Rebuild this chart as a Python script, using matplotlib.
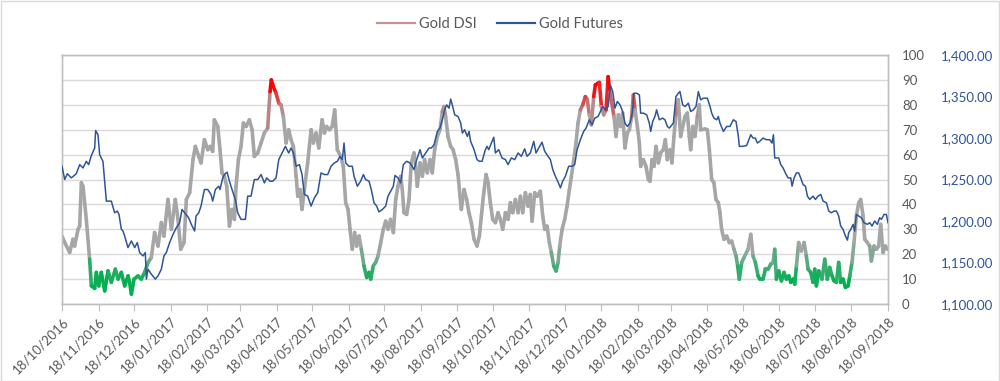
import numpy as np
import pandas as pd
import matplotlib
matplotlib.use("Agg")
import matplotlib.pyplot as plt
import matplotlib.dates as mdates
from matplotlib.collections import LineCollection
from matplotlib.colors import LinearSegmentedColormap
from matplotlib.lines import Line2D
from matplotlib.patches import Rectangle

plt.rcParams["font.family"] = ["Lato", "DejaVu Sans"]

# ── data: day offsets from 18/10/2016 ──
START = "2016-10-18"

dsi_day = [
    0, 2.3, 6.5, 9.3, 10.7, 13.6, 15.0, 16.4, 17.8, 20.6, 23.4, 24.9, 27.7, 29.1, 31.1, 33.3,
    36.2, 39.0, 41.8, 45.2, 47.5, 50.3, 53.1, 56.0, 57.3, 58.8, 61.0, 64.4, 67.2, 70.0, 72.9,
    75.7, 78.5, 81.4, 84.2, 86.4, 89.8, 92.7, 96.0, 98.3, 100.6, 103.4, 105.4, 108.2, 111.0,
    113.0, 115.9, 117.8, 120.7, 123.5, 125.5, 127.7, 129.1, 132.0, 133.9, 135.6, 137.6, 139.6,
    141.9, 144.1, 146.1, 147.5, 149.5, 151.7, 153.7, 156.0, 158.8, 161.1, 163.0, 165.9, 168.7,
    171.5, 174.3, 176.3, 177.4, 179.1, 181.4, 183.7, 185.6, 187.6, 189.9, 192.1, 194.1, 196.1,
    198.4, 199.8, 201.7, 203.4, 205.4, 208.2, 211.1, 213.0, 215.3, 217.6, 220.4, 222.4, 224.3,
    226.6, 228.9, 231.1, 233.3, 236.2, 238.4, 240.4, 242.4, 244.1, 246.0, 248.0, 249.7, 251.7,
    253.7, 255.9, 258.2, 260.2, 261.6, 263.8, 265.8, 267.8, 270.1, 272.3, 274.3, 276.3, 278.5,
    280.8, 282.8, 284.7, 287.0, 288.4, 289.8, 292.1, 294.1, 296.0, 298.3, 299.7, 301.1, 303.4,
    305.4, 307.3, 309.6, 311.9, 313.8, 315.8, 318.1, 320.3, 322.3, 323.7, 325.1, 327.1, 329.4,
    331.4, 333.6, 335.6, 337.3, 338.4, 340.7, 342.9, 344.9, 346.9, 349.2, 351.7, 353.7, 355.4,
    357.4, 359.4, 361.1, 363.0, 365.0, 367.3, 369.5, 371.5, 373.5, 375.8, 378.0, 380.0, 382.0,
    384.2, 386.5, 388.5, 390.4, 392.7, 395.0, 396.9, 398.4, 400.6, 402.6, 405.4, 407.4, 409.1,
    411.1, 413.0, 414.7, 416.7, 418.7, 420.4, 421.8, 423.8, 426.0, 428.0, 430.0, 431.7, 433.7,
    435.6, 437.3, 439.3, 441.3, 443.5, 445.2, 446.9, 448.6, 450.6, 452.0, 454.3, 455.4, 457.1,
    459.1, 461.1, 462.8, 464.2, 467.8, 469.5, 471.5, 473.4, 475.1, 477.1, 479.1, 480.8, 482.8,
    484.2, 485.6, 487.6, 489.3, 490.4, 492.7, 494.9, 496.9, 498.3, 500.0, 501.7, 503.4, 505.4,
    507.3, 509.6, 511.3, 513.0, 515.3, 516.9, 518.6, 520.3, 522.3, 524.3, 526.0, 528.0, 529.9,
    531.6, 532.8, 534.5, 536.4, 538.4, 540.1, 541.2, 544.9, 546.9, 548.6, 550.6, 552.5, 554.2,
    556.2, 557.6, 559.0, 561.0, 563.3, 565.5, 567.5, 569.5, 571.2, 572.6, 574.0, 576.0, 578.0,
    581.4, 583.7, 585.6, 587.6, 589.9, 591.3, 594.1, 596.1, 598.4, 600.6, 602.6, 604.0, 605.4,
    607.4, 609.7, 611.9, 613.9, 615.9, 617.6, 619.5, 621.0, 622.4, 624.3, 626.6, 628.9, 630.8,
    632.3, 634.5, 636.5, 637.9, 639.3, 641.3, 644.1, 646.4, 648.6, 650.6, 652.6, 654.3, 656.3,
    658.2, 659.9, 661.9, 663.9, 666.2, 667.6, 669.5, 671.2, 673.2, 675.2, 676.9, 678.9, 680.3,
    682.5, 684.5, 685.9, 688.2, 690.2, 692.1, 693.8, 695.8, 697.8, 699.5,
]
dsi_val = [
    27.3, 24.7, 20.7, 26.0, 23.3, 30.0, 31.3, 48.7, 47.3, 34.0, 18.0, 7.3, 6.3, 12.7, 7.3, 12.7,
    5.3, 13.3, 8.7, 14.0, 10.0, 12.7, 7.3, 11.3, 8.7, 4.0, 10.0, 11.3, 10.0, 12.7, 16.7,
    18.7, 28.7, 23.3, 32.7, 27.3, 42.0, 30.0, 42.0, 34.0, 22.0, 24.7, 42.0, 44.7, 58.0,
    63.3, 59.3, 56.7, 66.0, 62.0, 63.3, 61.3, 74.0, 71.3, 62.0, 52.7, 51.3, 47.3,
    31.3, 38.0, 34.0, 47.3, 58.0, 63.3, 72.7, 71.3, 74.0, 70.0, 59.3, 60.7, 64.7,
    68.7, 70.7, 85.3, 90.0, 87.3, 84.7, 80.7, 80.0, 75.3, 64.7, 70.0, 66.0, 63.3,
    51.3, 43.3, 46.0, 38.0, 46.0, 56.7, 70.0, 64.7, 68.7, 62.7, 74.0, 68.7, 71.3,
    70.0, 71.3, 78.0, 62.0, 59.3, 55.3, 40.7, 38.0, 30.0, 22.0, 28.7, 23.3, 27.3,
    22.0, 15.3, 10.7, 12.7, 10.0, 15.3, 16.7, 19.3, 24.7, 30.0, 33.3, 30.0, 34.0,
    28.7, 42.0, 47.3, 51.3, 46.0, 36.7, 36.0, 42.0, 56.7, 60.7, 55.3, 47.3, 56.7,
    51.3, 58.0, 52.7, 58.0, 52.7, 62.0, 67.3, 70.0, 77.3, 79.3, 75.3, 67.3, 63.3,
    62.0, 58.0, 52.0, 43.3, 38.0, 46.0, 42.0, 36.7, 32.7, 26.0, 23.3, 27.3, 35.3,
    44.7, 52.0, 48.7, 40.7, 34.0, 32.7, 36.7, 34.0, 30.0, 36.7, 34.0, 40.7, 36.7,
    42.0, 36.7, 43.3, 36.7, 44.7, 39.3, 44.0, 33.3, 44.7, 43.3, 45.3, 35.3, 30.0,
    31.3, 24.7, 20.7, 15.3, 13.3, 16.7, 23.3, 30.0, 34.0, 39.3, 46.0, 51.3, 58.0,
    64.7, 72.7, 78.0, 80.0, 83.3, 82.0, 76.0, 72.0, 83.3, 88.0, 88.7, 89.0, 79.3,
    76.0, 78.0, 91.3, 85.3, 75.3, 67.3, 76.0, 71.3, 76.7, 62.7, 68.7, 70.0, 75.3,
    84.0, 78.0, 71.3, 64.7, 55.3, 58.0, 55.3, 50.0, 49.3, 58.0, 55.3, 63.3, 56.7,
    60.7, 62.0, 66.0, 58.0, 62.0, 56.7, 67.3, 76.0, 82.0, 67.3, 71.3, 75.3, 76.7,
    67.3, 62.0, 71.3, 67.3, 75.3, 80.0, 70.0, 70.3, 70.0, 62.0, 50.0, 48.7, 42.0,
    40.7, 36.7, 30.0, 26.0, 27.3, 24.7, 25.3, 22.0, 19.3, 15.3, 10.0, 16.7, 18.7,
    22.0, 28.0, 19.3, 16.7, 11.3, 10.0, 10.0, 14.0, 14.0, 16.0, 16.7, 22.0, 10.0,
    13.3, 9.3, 12.7, 10.0, 11.3, 8.7, 10.0, 8.0, 15.3, 24.7, 21.3, 24.7, 19.3,
    14.0, 12.7, 8.7, 14.0, 7.3, 13.3, 10.0, 18.0, 10.0, 14.7, 11.3, 9.3, 8.7,
    16.7, 8.7, 10.0, 6.7, 7.3, 11.3, 16.7, 24.7, 35.3, 40.7, 42.0, 35.3, 26.0,
    24.7, 23.3, 17.3, 23.3, 22.0, 23.3, 32.0, 20.7, 23.3, 22.0,
]

gold_day = [
    0, 2.3, 4.5, 7.9, 12.1, 15.0, 17.8, 20.6, 22.6, 24.9, 27.7, 28.5, 30.5, 31.9, 34.7, 37.6,
    41.8, 44.6, 46.9, 48.3, 50.3, 51.7, 53.1, 55.9, 58.8, 61.6, 63.8, 65.8, 68.6, 70.6, 71.5,
    72.9, 75.7, 79.1, 81.4, 84.2, 86.4, 88.4, 91.2, 94.1, 96.9, 99.7, 101.7, 103.9, 107.3,
    109.6, 112.4, 113.6, 115.9, 117.8, 120.7, 123.5, 126.3, 127.7, 130.0, 132.8, 133.9, 136.2,
    137.6, 139.9, 141.9, 144.1, 146.9, 148.9, 151.7, 155.4, 157.4, 160.2, 163.0, 165.9, 168.7,
    171.5, 173.5, 176.3, 178.6, 181.4, 183.7, 186.5, 189.3, 192.1, 194.1, 196.1, 198.4, 201.2,
    203.4, 205.4, 208.2, 211.1, 213.9, 216.7, 219.5, 222.4, 225.2, 228.0, 230.8, 233.3, 235.6,
    237.6, 239.0, 240.4, 243.2, 246.0, 247.5, 250.3, 253.1, 255.4, 257.3, 260.2, 262.1, 264.4,
    266.7, 268.6, 271.5, 274.3, 276.3, 278.5, 280.8, 282.2, 284.7, 287.0, 289.3, 292.1, 294.9,
    298.3, 300.6, 303.4, 305.4, 308.2, 311.0, 313.0, 315.3, 318.1, 320.3, 322.3, 324.3, 326.0,
    328.0, 329.4, 331.1, 332.8, 335.6, 337.9, 339.3, 341.2, 343.5, 344.9, 346.3, 349.2, 351.7,
    353.7, 356.0, 358.8, 360.2, 361.6, 363.9, 365.9, 367.3, 370.1, 372.9, 375.8, 378.0, 380.8,
    383.7, 386.5, 389.3, 392.1, 394.1, 396.9, 399.8, 401.7, 404.0, 406.8, 409.1, 411.9, 413.9,
    415.9, 418.1, 420.4, 422.4, 424.3, 426.6, 429.4, 432.3, 434.5, 436.5, 439.3, 442.1, 444.1,
    446.9, 449.2, 451.5, 454.3, 456.3, 458.2, 460.5, 462.8, 464.7, 466.7, 468.6, 470.6, 472.9,
    475.1, 477.1, 479.1, 481.4, 483.3, 484.7, 487.0, 489.3, 490.4, 492.7, 495.5, 497.7, 498.9,
    500.6, 502.5, 503.9, 506.2, 509.0, 511.0, 513.0, 514.7, 515.8, 518.1, 520.3, 522.3, 523.7,
    526.0, 528.0, 530.8, 532.8, 535.0, 537.3, 539.3, 541.2, 543.5, 546.9, 549.2, 550.6, 552.5,
    554.8, 556.2, 557.6, 560.5, 563.3, 566.1, 568.9, 571.2, 573.2, 574.0, 576.8, 580.2, 583.7,
    585.6, 587.6, 589.3, 591.3, 594.1, 596.9, 599.8, 601.7, 602.9, 604.0, 607.4, 609.1, 611.1,
    613.0, 615.3, 617.6, 618.7, 620.4, 622.4, 624.3, 626.0, 628.0, 630.0, 631.7, 633.7, 636.5,
    638.5, 640.7, 643.0, 645.0, 647.8, 649.8, 652.0, 654.3, 656.3, 658.2, 659.9, 661.9, 663.9,
    665.6, 666.7, 668.5, 670.4, 671.8, 673.2, 675.2, 677.4, 679.7, 682.5, 684.5, 686.5, 688.7,
    691.0, 692.9, 694.4, 696.7, 698.6, 700.0,
]
gold_val = [
    1266, 1250, 1257, 1252, 1257, 1268, 1264, 1272, 1268, 1279, 1288, 1309, 1304, 1280, 1272, 1224,
    1224, 1210, 1212, 1208, 1190, 1188, 1182, 1168, 1176, 1168, 1174, 1162, 1158, 1162, 1130,
    1142, 1136, 1130, 1134, 1142, 1158, 1162, 1174, 1184, 1192, 1198, 1214, 1210, 1204,
    1196, 1188, 1206, 1210, 1218, 1238, 1238, 1232, 1224, 1238, 1242, 1238, 1252,
    1256, 1259, 1248, 1238, 1226, 1210, 1202, 1202, 1230, 1230, 1250, 1250, 1256,
    1246, 1252, 1248, 1248, 1252, 1274, 1282, 1290, 1282, 1288, 1282, 1266, 1268,
    1256, 1232, 1230, 1218, 1228, 1234, 1258, 1256, 1256, 1266, 1270, 1272, 1278,
    1274, 1294, 1270, 1266, 1266, 1254, 1242, 1248, 1256, 1250, 1248, 1238, 1222,
    1218, 1211, 1214, 1218, 1230, 1236, 1242, 1255, 1252, 1246, 1268, 1272, 1270,
    1262, 1274, 1286, 1276, 1282, 1288, 1288, 1292, 1308, 1312, 1322, 1334, 1340,
    1336, 1347, 1338, 1328, 1326, 1318, 1306, 1310, 1302, 1308, 1296, 1286, 1274,
    1272, 1272, 1286, 1290, 1286, 1294, 1301, 1282, 1286, 1276, 1274, 1268, 1276,
    1274, 1282, 1278, 1287, 1278, 1282, 1296, 1282, 1288, 1295, 1284, 1278, 1274,
    1262, 1254, 1247, 1240, 1248, 1254, 1266, 1266, 1268, 1286, 1298, 1308, 1312,
    1322, 1316, 1324, 1326, 1332, 1338, 1334, 1338, 1364, 1356, 1336, 1344, 1340,
    1332, 1318, 1314, 1318, 1330, 1354, 1354, 1352, 1330, 1330, 1328, 1318, 1308,
    1320, 1326, 1334, 1322, 1324, 1322, 1314, 1312, 1314, 1318, 1350, 1354, 1356,
    1340, 1338, 1342, 1332, 1334, 1338, 1356, 1346, 1348, 1348, 1338, 1330, 1324,
    1322, 1326, 1318, 1308, 1314, 1314, 1322, 1320, 1302, 1290, 1290, 1291, 1304,
    1300, 1300, 1294, 1296, 1300, 1298, 1298, 1294, 1304, 1276, 1276, 1268, 1264,
    1258, 1252, 1252, 1242, 1252, 1258, 1258, 1252, 1244, 1242, 1230, 1226, 1230,
    1226, 1230, 1232, 1224, 1222, 1212, 1210, 1212, 1212, 1206, 1194, 1190, 1182,
    1177, 1186, 1190, 1196, 1188, 1208, 1206, 1204, 1198, 1196, 1198, 1194, 1200,
    1196, 1204, 1202, 1208, 1208, 1198,
]

tick_dates = pd.date_range("2016-10-18", "2018-09-18", freq=pd.DateOffset(months=1))

# ── colours ──
GRAY = "#A6A6A6"
BLUE = "#2F5597"
TEXT = "#595959"
# WHY: Excel gradient line — green at the bottom, grey in the middle, red at the top
dsi_cmap = LinearSegmentedColormap.from_list(
    "dsi", [(0.0, "#00B050"), (0.09, "#00B050"), (0.23, GRAY),
            (0.76, GRAY), (0.87, "#FF0000"), (1.0, "#FF0000")])

fig = plt.figure(figsize=(10, 3.81), dpi=100)
fig.patches.append(Rectangle((0.0005, 0.001), 0.998, 0.997, transform=fig.transFigure,
                             fill=False, edgecolor="#D9D9D9", linewidth=1))
ax = fig.add_axes([0.062, 0.202, 0.826, 0.6535])
ax2 = ax.twinx()

base = mdates.date2num(np.datetime64(START))
dx = base + np.asarray(dsi_day)
dy = np.asarray(dsi_val)
pts = np.column_stack([dx, dy]).reshape(-1, 1, 2)
segs = np.concatenate([pts[:-1], pts[1:]], axis=1)
mid = (dy[:-1] + dy[1:]) / 2
lc = LineCollection(segs, colors=dsi_cmap(mid / 100.0), linewidths=2.6,
                    capstyle="round", joinstyle="round", zorder=3)
ax.add_collection(lc)

ax2.plot(base + np.asarray(gold_day), gold_val, color=BLUE, lw=1.1, zorder=4)

# axes ranges
ax.set_xlim(mdates.date2num(tick_dates[0]), mdates.date2num(tick_dates[-1]))
ax.set_ylim(0, 100)
ax2.set_ylim(1100, 1400)

ax.set_xticks(mdates.date2num(tick_dates))
ax.set_xticklabels([d.strftime("%d/%m/%Y") for d in tick_dates], rotation=45,
                   ha="right", rotation_mode="anchor", fontsize=9.5, color=TEXT)
ax.tick_params(axis="x", length=5, color="#BFBFBF", pad=3)

ax.set_yticks(np.arange(0, 101, 10))
ax.yaxis.tick_right()
ax.tick_params(axis="y", length=0, pad=10, labelsize=9.5, labelcolor=TEXT)
ax.yaxis.grid(True, color="#D9D9D9", lw=1)
ax.set_axisbelow(True)

ax2.set_yticks(np.arange(1100, 1401, 50))
ax2.set_yticklabels([f"{v:,.2f}" for v in np.arange(1100, 1401, 50)])
ax2.tick_params(axis="y", length=0, pad=38, labelsize=9.5, labelcolor=BLUE)

for a in (ax, ax2):
    for s in a.spines.values():
        s.set_color("#BFBFBF")
        s.set_linewidth(1)

handles = [Line2D([], [], color="#C49494", lw=1.6), Line2D([], [], color=BLUE, lw=1.6)]
fig.legend(handles, ["Gold DSI", "Gold Futures"], loc="center",
           bbox_to_anchor=(0.5, 0.937), ncol=2, frameon=False, fontsize=10.5,
           labelcolor=TEXT, handlelength=2.6, columnspacing=1.4, handletextpad=0.3)

fig.savefig("out.png", dpi=100, facecolor="white")
